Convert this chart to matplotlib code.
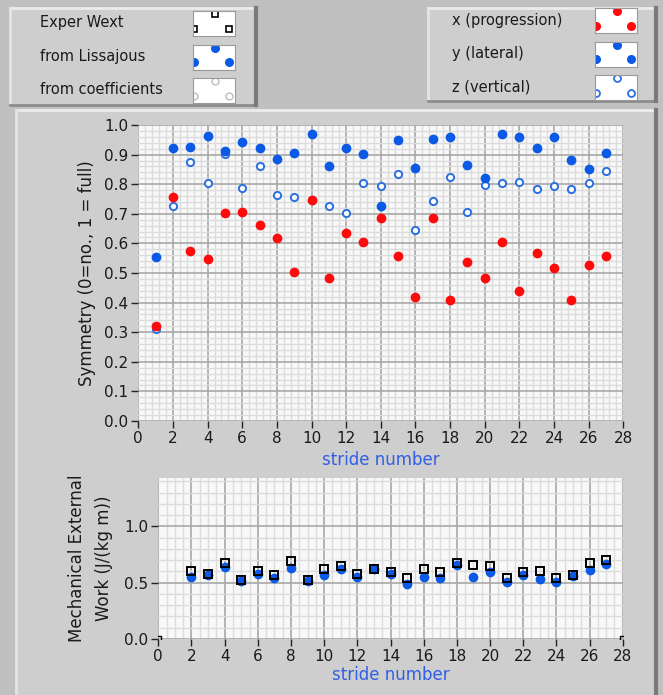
import matplotlib
matplotlib.use("Agg")
import matplotlib.pyplot as plt
import numpy as np
from matplotlib.patches import Rectangle
from matplotlib.ticker import MultipleLocator

W, H = 663, 695

# ---- data ----
stride = list(range(1, 28))
sym_x = [0.322, 0.758, 0.573, 0.547, 0.702, 0.706, 0.661, 0.619, 0.502, 0.748,
         0.482, 0.635, 0.605, 0.686, 0.559, 0.420, 0.686, 0.410, 0.538, 0.482,
         0.605, 0.440, 0.569, 0.517, 0.410, 0.527, 0.559]
sym_y = [0.553, 0.922, 0.927, 0.963, 0.912, 0.943, 0.922, 0.886, 0.906, 0.968,
         0.860, 0.922, 0.901, 0.727, 0.948, 0.856, 0.954, 0.958, 0.866, 0.820,
         0.968, 0.958, 0.922, 0.958, 0.882, 0.850, 0.906]
sym_z = [0.311, 0.727, 0.876, 0.803, 0.901, 0.788, 0.860, 0.764, 0.758, 0.748,
         0.727, 0.702, 0.803, 0.794, 0.834, 0.645, 0.742, 0.824, 0.706, 0.798,
         0.804, 0.809, 0.784, 0.794, 0.784, 0.804, 0.845]

wext_stride = list(range(2, 28))
wext_exper = [0.607, 0.580, 0.676, 0.527, 0.607, 0.568, 0.690, 0.527, 0.622, 0.649,
              0.580, 0.622, 0.595, 0.542, 0.622, 0.595, 0.676, 0.661, 0.649, 0.542,
              0.595, 0.607, 0.542, 0.568, 0.676, 0.702]
wext_lissajous = [0.554, 0.568, 0.643, 0.512, 0.580, 0.542, 0.628, 0.512, 0.568, 0.622,
                  0.554, 0.622, 0.580, 0.488, 0.554, 0.542, 0.661, 0.554, 0.595, 0.506,
                  0.568, 0.536, 0.506, 0.562, 0.616, 0.670]
corner_x = [0, 28]
corner_y = [0, 0]

left_labels = ["Exper Wext", "from Lissajous", "from coefficients"]
right_labels = ["x (progression)", "y (lateral)", "z (vertical)"]

RED = "#ff0a0a"
BLUE = "#0a5ae6"
OBLUE = "#2a6fe0"
BG = "#c0c0c0"
PANEL = "#cecece"


def box(x0, y0, x1, y1):
    # pixel box (top-left origin) -> figure fraction rect
    return [x0 / W, 1 - y1 / H, (x1 - x0) / W, (y1 - y0) / H]


def bevel(fig, x0, y0, x1, y1, face=PANEL):
    r = box(x0, y0, x1, y1)
    fig.patches.append(Rectangle((r[0], r[1]), r[2], r[3], transform=fig.transFigure,
                                 facecolor=face, edgecolor="none", zorder=-2))
    fig.add_artist(plt.Line2D([x0 / W, x1 / W], [1 - y0 / H] * 2, color="#ececec", lw=2, zorder=-1))
    fig.add_artist(plt.Line2D([x0 / W] * 2, [1 - y0 / H, 1 - y1 / H], color="#e4e4e4", lw=2, zorder=-1))
    fig.add_artist(plt.Line2D([x0 / W, x1 / W], [1 - y1 / H] * 2, color="#8c8c8c", lw=2, zorder=-1))
    fig.add_artist(plt.Line2D([x1 / W] * 2, [1 - y0 / H, 1 - y1 / H], color="#7a7a7a", lw=3, zorder=-1))


fig = plt.figure(figsize=(W / 100, H / 100), dpi=100, facecolor=BG)

bevel(fig, 10, 8, 256, 105)
bevel(fig, 428, 8, 656, 101)
bevel(fig, 16, 110, 656, 700)


def sample_box(x0, y0, kind):
    a = fig.add_axes(box(x0, y0, x0 + 42, y0 + 25))
    a.set_xlim(0, 1)
    a.set_ylim(0, 1)
    a.set_xticks([])
    a.set_yticks([])
    a.set_facecolor("white")
    for s in a.spines.values():
        s.set_color("#9a9a9a")
        s.set_linewidth(0.8)
    px = [0.52, 0.02, 0.85]
    py = [0.88, 0.3, 0.3]
    if kind == "square":
        a.plot(px, py, ls="none", marker="s", ms=5, mfc="white", mec="black", mew=1.2, clip_on=True)
    elif kind == "gray":
        a.plot(px, py, ls="none", marker="o", ms=5, mfc="white", mec="#bdbdbd", mew=1.0, clip_on=True)
    elif kind == "red":
        a.plot(px, py, ls="none", marker="o", ms=5.5, mfc=RED, mec=RED, clip_on=True)
    elif kind == "blue":
        a.plot(px, py, ls="none", marker="o", ms=5.5, mfc=BLUE, mec=BLUE, clip_on=True)
    elif kind == "open":
        a.plot(px, py, ls="none", marker="o", ms=5, mfc="white", mec=OBLUE, mew=1.3, clip_on=True)


for i, (lab, kind) in enumerate(zip(left_labels, ["square", "blue", "gray"])):
    fig.text(40 / W, 1 - (23 + i * 33.5) / H, lab, fontsize=10.5, va="center", color="#1a1a1a")
    sample_box(193, 11 + i * 33.5, kind)
for i, (lab, kind) in enumerate(zip(right_labels, ["red", "blue", "open"])):
    fig.text(452 / W, 1 - (20 + i * 33.5) / H, lab, fontsize=10.5, va="center", color="#1a1a1a")
    sample_box(595, 8 + i * 33.5, kind)


def style_grid(ax):
    ax.set_facecolor("#f8f8f8")
    ax.set_axisbelow(True)
    ax.grid(which="minor", color="#dcdcdc", lw=1.0)
    ax.grid(which="major", color="#a8a8a8", lw=1.2)
    for s in ax.spines.values():
        s.set_visible(False)
    ax.tick_params(which="minor", length=0)
    ax.tick_params(which="major", direction="out", length=5, width=1, color="#222222",
                   labelsize=11, labelcolor="#1a1a1a", pad=2)


# ---- top plot: symmetry ----
ax1 = fig.add_axes(box(138.3, 125, 623.3, 421))
ax1.set_xlim(0, 28)
ax1.set_ylim(0, 1.0)
ax1.xaxis.set_major_locator(MultipleLocator(2))
ax1.xaxis.set_minor_locator(MultipleLocator(0.4))
ax1.yaxis.set_major_locator(MultipleLocator(0.1))
ax1.yaxis.set_minor_locator(MultipleLocator(0.02))
ax1.yaxis.set_major_formatter(matplotlib.ticker.FormatStrFormatter("%.1f"))
style_grid(ax1)
ax1.plot(stride, sym_z, ls="none", marker="o", ms=5.2, mfc="white", mec=OBLUE, mew=1.4, zorder=3)
ax1.plot(stride, sym_y, ls="none", marker="o", ms=6, mfc=BLUE, mec=BLUE, zorder=4)
ax1.plot(stride, sym_x, ls="none", marker="o", ms=6, mfc=RED, mec=RED, zorder=5)
ax1.set_xlabel("stride number", fontsize=12, color="#2f5fe6", labelpad=4)
ax1.set_ylabel("Symmetry (0=no., 1 = full)", fontsize=12, color="#1a1a1a", labelpad=6)

# ---- bottom plot: external work ----
ax2 = fig.add_axes(box(158.3, 478, 622.7, 639))
ax2.set_xlim(0, 28)
ax2.set_ylim(0, 1.43)
ax2.xaxis.set_major_locator(MultipleLocator(2))
ax2.xaxis.set_minor_locator(MultipleLocator(0.5))
ax2.yaxis.set_major_locator(MultipleLocator(0.5))
ax2.yaxis.set_minor_locator(MultipleLocator(0.1))
ax2.yaxis.set_major_formatter(matplotlib.ticker.FormatStrFormatter("%.1f"))
style_grid(ax2)
ax2.plot(wext_stride, wext_lissajous, ls="none", marker="o", ms=6, mfc=BLUE, mec=BLUE, zorder=3)
ax2.plot(wext_stride, wext_exper, ls="none", marker="s", ms=5.5, mfc="none", mec="black", mew=1.4, zorder=4)
ax2.plot(corner_x, corner_y, ls="none", marker="s", ms=4, mfc="none", mec="black", mew=1.0, zorder=4)
ax2.set_xlabel("stride number", fontsize=12, color="#2f5fe6", labelpad=2)
ax2.set_ylabel("Mechanical External\nWork (J/(kg m))", fontsize=12, color="#1a1a1a",
               labelpad=8, linespacing=1.7)

fig.savefig("out.png", dpi=100, facecolor=BG)
